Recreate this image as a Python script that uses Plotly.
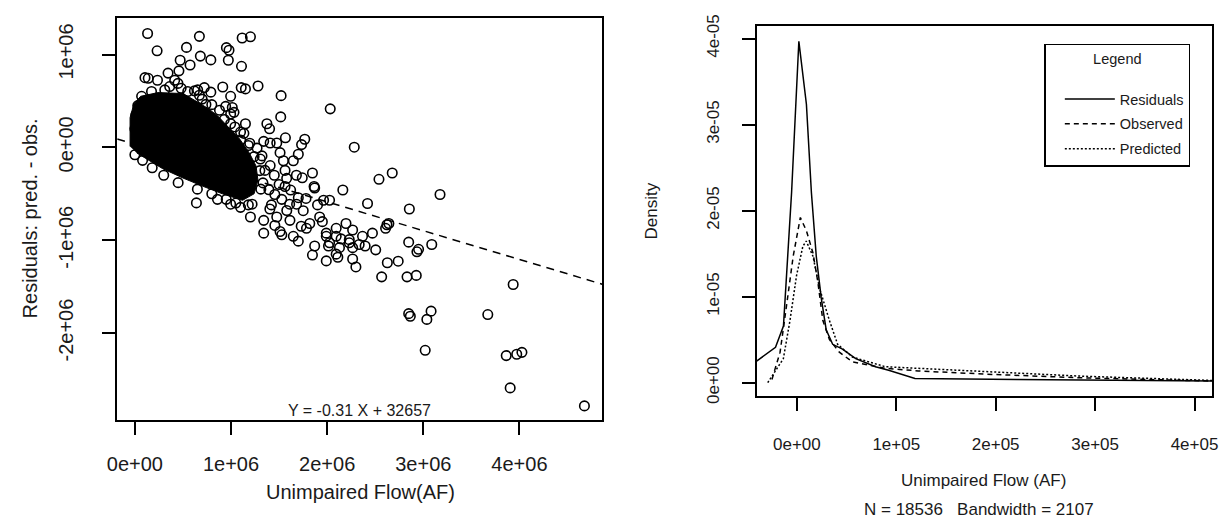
import plotly.graph_objects as go

# ---------------- Left panel: residuals vs unimpaired flow ----------------
resid_x = [0.132e6, 0.231e6, 0.537e6, 0.671e6, 1.116e6, 1.202e6, 0.952e6, 0.979e6, 0.471e6, 0.681e6,
           0.790e6, 0.972e6, 1.109e6, 0.574e6, 0.345e6, 0.458e6, 0.105e6, 0.139e6, 0.235e6, 0.414e6,
           0.448e6, 0.653e6, 0.722e6, 0.790e6, 0.914e6, 1.106e6, 1.150e6, 1.281e6, 0.996e6, 1.521e6,
           0.944e6, 1.013e6, 1.031e6, 0.996e6, 0.739e6, 0.722e6, 1.517e6, 2.032e6, 1.373e6, 1.401e6,
           1.150e6, 1.099e6, 1.134e6, 0.996e6, 1.566e6, 1.767e6, 1.734e6, 1.195e6, 1.340e6, 1.407e6,
           1.476e6, 2.282e6, 1.305e6, 1.407e6, 1.510e6, 1.545e6, 1.648e6, 1.700e6, 1.562e6, 1.579e6,
           1.562e6, 1.741e6, 1.847e6, 1.864e6, 1.870e6, 2.163e6, 2.539e6, 2.677e6, 3.174e6, 1.963e6,
           2.025e6, 1.700e6, 1.682e6, 1.751e6, 2.420e6, 2.855e6, 0.640e6, 0.996e6, 1.099e6, 1.202e6,
           1.340e6, 1.476e6, 1.613e6, 1.340e6, 1.510e6, 1.648e6, 1.700e6, 1.819e6, 1.922e6, 1.991e6,
           2.094e6, 2.196e6, 2.265e6, 2.368e6, 2.471e6, 2.608e6, 2.642e6, 1.870e6, 2.025e6, 2.128e6,
           2.230e6, 2.848e6, 2.951e6, 3.088e6, 1.528e6, 1.847e6, 1.991e6, 2.094e6, 2.145e6, 2.014e6,
           2.094e6, 2.111e6, 1.991e6, 2.230e6, 2.265e6, 2.333e6, 2.395e6, 2.265e6, 2.299e6, 2.505e6,
           2.626e6, 2.739e6, 2.567e6, 2.934e6, 2.831e6, 2.927e6, 2.848e6, 2.865e6, 3.081e6, 3.037e6,
           3.020e6, 3.671e6, 3.935e6, 3.863e6, 3.972e6, 4.026e6, 3.904e6, 4.676e6, 2.622e6, 0.070e6,
           0.173e6, 0.311e6, 0.362e6, 0.481e6, 0.550e6, 0.619e6, 0.671e6, 1.271e6, 1.322e6, 1.353e6,
           1.332e6, 1.394e6, 1.456e6, 1.528e6, 1.610e6, 0.859e6, 1.219e6, 1.404e6, 1.456e6, 1.785e6,
           # fringe of the dense core
           0.700e6, 0.800e6, 0.880e6, 0.930e6, 1.040e6, 1.100e6, 1.180e6, 1.240e6, 1.300e6, 1.310e6,
           1.180e6, 1.050e6, 0.950e6, 0.800e6, 0.650e6, 0.450e6, 0.300e6, 0.180e6, 0.080e6, 0.000e6,
           0.010e6, 0.000e6, 0.010e6, 0.030e6, 1.450e6, 1.500e6, 1.620e6, 1.680e6, 1.580e6, 1.420e6,
           1.780e6, 1.900e6, 1.950e6, 1.730e6]
resid_y = [1.227e6, 1.040e6, 1.077e6, 1.196e6, 1.178e6, 1.191e6, 1.074e6, 1.046e6, 0.939e6, 0.983e6,
           0.942e6, 0.939e6, 0.873e6, 0.887e6, 0.800e6, 0.824e6, 0.751e6, 0.744e6, 0.723e6, 0.723e6,
           0.689e6, 0.619e6, 0.644e6, 0.595e6, 0.650e6, 0.644e6, 0.630e6, 0.661e6, 0.550e6, 0.557e6,
           0.442e6, 0.429e6, 0.377e6, 0.359e6, 0.463e6, 0.366e6, 0.328e6, 0.415e6, 0.255e6, 0.200e6,
           0.255e6, 0.165e6, 0.151e6, 0.255e6, 0.103e6, 0.088e6, 0.030e6, 0.044e6, 0.065e6, 0.047e6,
           0.047e6, 0.002e6, -0.126e6, -0.196e6, -0.057e6, -0.144e6, -0.144e6, -0.074e6, -0.248e6, -0.334e6,
           -0.421e6, -0.328e6, -0.276e6, -0.421e6, -0.438e6, -0.459e6, -0.344e6, -0.276e6, -0.508e6, -0.570e6,
           -0.570e6, -0.542e6, -0.612e6, -0.682e6, -0.605e6, -0.664e6, -0.598e6, -0.612e6, -0.646e6, -0.750e6,
           -0.786e6, -0.750e6, -0.786e6, -0.924e6, -0.906e6, -0.958e6, -1.010e6, -0.820e6, -0.750e6, -0.924e6,
           -0.872e6, -0.820e6, -0.890e6, -0.958e6, -0.924e6, -0.872e6, -0.820e6, -1.062e6, -1.028e6, -1.080e6,
           -1.028e6, -1.021e6, -1.098e6, -1.046e6, -0.942e6, -1.160e6, -0.958e6, -0.958e6, -0.986e6, -1.062e6,
           -1.150e6, -1.184e6, -1.223e6, -0.994e6, -1.080e6, -1.046e6, -1.062e6, -1.202e6, -1.288e6, -1.104e6,
           -1.243e6, -1.226e6, -1.395e6, -1.125e6, -1.395e6, -1.379e6, -1.791e6, -1.819e6, -1.764e6, -1.853e6,
           -2.186e6, -1.801e6, -1.477e6, -2.243e6, -2.229e6, -2.208e6, -2.591e6, -2.785e6, -0.834e6, 0.550e6,
           0.602e6, 0.619e6, 0.655e6, 0.637e6, 0.602e6, 0.609e6, 0.561e6, -0.008e6, -0.092e6, -0.248e6,
           -0.383e6, -0.456e6, -0.508e6, -0.560e6, -0.612e6, -0.560e6, -0.612e6, -0.664e6, -0.841e6, -0.872e6,
           0.520e6, 0.460e6, 0.400e6, 0.300e6, 0.220e6, 0.080e6, 0.020e6, -0.100e6, -0.250e6, -0.450e6,
           -0.620e6, -0.600e6, -0.560e6, -0.500e6, -0.450e6, -0.380e6, -0.300e6, -0.220e6, -0.140e6, -0.080e6,
           0.050e6, 0.200e6, 0.350e6, 0.450e6, -0.300e6, -0.400e6, -0.460e6, -0.300e6, -0.680e6, -0.620e6,
           -0.550e6, -0.620e6, -0.800e6, -0.850e6]

# outline of the solid (over-plotted) core of the point cloud
core_x = [-0.05e6, -0.05e6, -0.01e6, 0.06e6, 0.24e6, 0.50e6, 0.60e6, 0.76e6, 0.86e6, 0.98e6, 1.09e6,
          1.19e6, 1.26e6, 1.28e6, 1.24e6, 1.12e6, 0.91e6, 0.71e6, 0.50e6, 0.29e6, 0.14e6, 0.02e6]
core_y = [0.01e6, 0.32e6, 0.47e6, 0.55e6, 0.59e6, 0.58e6, 0.52e6, 0.42e6, 0.34e6, 0.21e6, 0.09e6,
          -0.06e6, -0.20e6, -0.35e6, -0.50e6, -0.57e6, -0.50e6, -0.42e6, -0.33e6, -0.23e6, -0.14e6, -0.06e6]

fit_slope = -0.31
fit_intercept = 32657
fit_label = "Y = -0.31 X + 32657"

left_xrange = [-0.184e6, 4.861e6]
left_yrange = [-2.939e6, 1.393e6]
left_xticks = [0, 1e6, 2e6, 3e6, 4e6]
left_xticklabels = ["0e+00", "1e+06", "2e+06", "3e+06", "4e+06"]
left_yticks = [-2e6, -1e6, 0, 1e6]
left_yticklabels = ["-2e+06", "-1e+06", "0e+00", "1e+06"]

# ---------------- Right panel: density curves ----------------
res_dx = [-40500, -21500, -13500, -5300, 2000, 9600, 14600, 19500, 24500, 29500, 36000, 45900,
          59200, 79100, 92300, 118800, 221200, 320400, 417700]
res_dy = [0.251e-5, 0.411e-5, 0.658e-5, 2.213e-5, 3.968e-5, 3.237e-5, 2.213e-5, 1.470e-5, 0.985e-5,
          0.614e-5, 0.446e-5, 0.391e-5, 0.279e-5, 0.186e-5, 0.145e-5, 0.048e-5, 0.037e-5, 0.026e-5, 0.019e-5]

obs_dx = [-25100, -16900, -10200, -3700, 3500, 9600, 16200, 21100, 26100, 32700, 42700, 55900,
          89000, 122000, 188200, 287400, 417700]
obs_dy = [0.037e-5, 0.354e-5, 0.912e-5, 1.470e-5, 1.920e-5, 1.767e-5, 1.507e-5, 1.172e-5, 0.725e-5,
          0.502e-5, 0.354e-5, 0.242e-5, 0.167e-5, 0.137e-5, 0.100e-5, 0.056e-5, 0.019e-5]

pred_dx = [-29300, -13600, -6900, -300, 6000, 9400, 16200, 22800, 32700, 41000, 55900, 89000,
           122000, 188200, 287400, 417700]
pred_dy = [0.000e-5, 0.279e-5, 0.725e-5, 1.247e-5, 1.585e-5, 1.646e-5, 1.470e-5, 1.097e-5, 0.725e-5,
           0.446e-5, 0.298e-5, 0.186e-5, 0.167e-5, 0.131e-5, 0.075e-5, 0.026e-5]

right_xrange = [-40500, 417700]
right_yrange = [-0.16e-5, 4.15e-5]
right_xticks = [0, 1e5, 2e5, 3e5, 4e5]
right_xticklabels = ["0e+00", "1e+05", "2e+05", "3e+05", "4e+05"]
right_yticks = [0, 1e-5, 2e-5, 3e-5, 4e-5]
right_yticklabels = ["0e+00", "1e-05", "2e-05", "3e-05", "4e-05"]

FONT = "Liberation Sans, Arial, Helvetica, sans-serif"
INK = "#1a1a1a"

fig = go.Figure()

fig.add_trace(go.Scatter(x=core_x, y=core_y, mode="lines", fill="toself",
                         fillcolor="black", line=dict(color="black", width=1),
                         showlegend=False, hoverinfo="skip", xaxis="x", yaxis="y"))
fig.add_trace(go.Scatter(x=resid_x, y=resid_y, mode="markers",
                         marker=dict(symbol="circle-open", size=9.5, color="black",
                                     line=dict(width=1.6, color="black")),
                         showlegend=False, xaxis="x", yaxis="y"))
fit_x = left_xrange
fit_y = [fit_slope * v + fit_intercept for v in fit_x]
fig.add_trace(go.Scatter(x=fit_x, y=fit_y, mode="lines",
                         line=dict(color="black", width=1.5, dash="8px,6px"),
                         showlegend=False, xaxis="x", yaxis="y"))

fig.add_trace(go.Scatter(x=res_dx, y=res_dy, mode="lines", name="Residuals", legendgroup="a",
                         line=dict(color="black", width=1.5), xaxis="x2", yaxis="y2"))
fig.add_trace(go.Scatter(x=obs_dx, y=obs_dy, mode="lines", name="Observed", legendgroup="b",
                         line=dict(color="black", width=1.5, dash="5px,4px"), xaxis="x2", yaxis="y2"))
fig.add_trace(go.Scatter(x=pred_dx, y=pred_dy, mode="lines", name="Predicted", legendgroup="c",
                         line=dict(color="black", width=1.5, dash="2px,2px"), xaxis="x2", yaxis="y2"))

axis_common = dict(showline=True, mirror=True, linecolor="black", linewidth=1.5,
                   ticks="outside", ticklen=13, tickwidth=1.5, tickcolor="black",
                   showgrid=False, zeroline=False, tickmode="array")

fig.update_layout(
    width=1230, height=529, margin=dict(l=0, r=0, t=0, b=0),
    paper_bgcolor="white", plot_bgcolor="white",
    font=dict(family=FONT, color=INK),
    xaxis=dict(domain=[0.0883, 0.4878], range=left_xrange, tickvals=left_xticks,
               ticktext=left_xticklabels, tickfont=dict(size=20), ticklabelstandoff=12,
               anchor="y", **axis_common),
    yaxis=dict(domain=[0.1992, 0.9862], range=left_yrange, tickvals=left_yticks,
               ticktext=left_yticklabels, tickfont=dict(size=20), tickangle=-90,
               ticklabelstandoff=21, anchor="x", **axis_common),
    xaxis2=dict(domain=[0.6150, 0.9902], range=right_xrange, tickvals=right_xticks,
                ticktext=right_xticklabels, tickfont=dict(size=17), ticklabelstandoff=18,
                anchor="y2", **axis_common),
    yaxis2=dict(domain=[0.2457, 0.9713], range=right_yrange, tickvals=right_yticks,
                ticktext=right_yticklabels, tickfont=dict(size=17), tickangle=-90,
                ticklabelstandoff=16, anchor="x2", **axis_common),
    legend=dict(x=0.852, y=0.9357, xanchor="left", yanchor="top",
                bordercolor="black", borderwidth=1.5, bgcolor="white",
                font=dict(size=14.5, family=FONT, color=INK),
                indentation=14, itemwidth=50, tracegroupgap=3,
                title=dict(text="Legend<br>\u00a0", side="top center", font=dict(size=14.5))),
    annotations=[
        dict(text="Unimpaired Flow(AF)", x=0.2886, y=1 - 498 / 529, xref="paper", yref="paper",
             showarrow=False, font=dict(size=20), xanchor="center", yanchor="middle"),
        dict(text="Residuals: pred. - obs.", x=20 / 1230, y=1 - 215 / 529, xref="paper", yref="paper",
             showarrow=False, font=dict(size=20), textangle=-90, xanchor="center", yanchor="middle"),
        dict(text=fit_label, x=2.335e6, y=-2.834e6, xref="x", yref="y", showarrow=False,
             font=dict(size=16), xanchor="center", yanchor="middle"),
        dict(text="Unimpaired Flow (AF)", x=986 / 1230, y=1 - 486 / 529, xref="paper", yref="paper",
             showarrow=False, font=dict(size=17), xanchor="center", yanchor="middle"),
        dict(text="N = 18536\u00a0\u00a0\u00a0Bandwidth = 2107", x=982 / 1230, y=1 - 516 / 529,
             xref="paper", yref="paper", showarrow=False, font=dict(size=17),
             xanchor="center", yanchor="middle"),
        dict(text="Density", x=650 / 1230, y=1 - 207 / 529, xref="paper", yref="paper",
             showarrow=False, font=dict(size=17), textangle=-90, xanchor="center", yanchor="middle"),
    ],
)

fig.write_html("out.html")
